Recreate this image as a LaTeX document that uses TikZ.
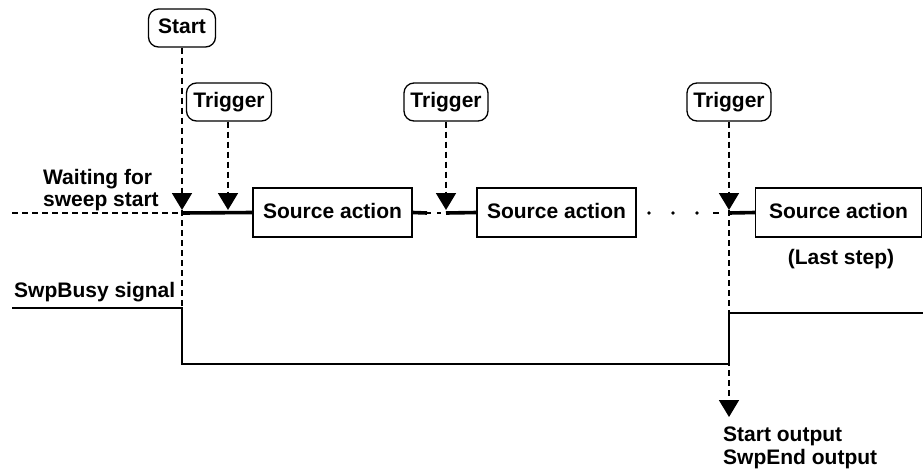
\documentclass[tikz,border=0pt]{standalone}
\usepackage{fontspec}
\setmainfont{Liberation Sans}
\usetikzlibrary{arrows.meta}
\begin{document}
\begin{tikzpicture}[x=1pt,y=-1pt,
  every node/.style={font=\bfseries\fontsize{21}{22}\selectfont, inner sep=0pt},
  tag/.style={draw, line width=1.3pt, rounded corners=10pt, minimum height=38pt, text height=15pt, text depth=4pt},
  srcbox/.style={draw, line width=1.4pt, minimum height=49pt, text height=15pt, text depth=4pt},
  dsh/.style={line width=1.8pt, dash pattern=on 6pt off 4pt},
  tri/.style={-{Triangle[width=20pt,length=17pt]}},
  thickline/.style={line width=3.6pt},
  sig/.style={line width=2.5pt}
]
\useasboundingbox (0,0) rectangle (923,469);

% tag nodes
\node[tag, minimum width=67pt] (start) at (182,28) {Start};
\node[tag, minimum width=85pt] (trig1) at (229,102) {Trigger};
\node[tag, minimum width=84pt] (trig2) at (446,102) {Trigger};
\node[tag, minimum width=84pt] (trig3) at (729,102) {Trigger};

% source boxes
\node[srcbox, minimum width=159pt] (src1) at (332.5,212.5) {Source action};
\node[srcbox, minimum width=159pt] (src2) at (556.5,212.5) {Source action};
\node[srcbox, minimum width=166pt] (src3) at (838.5,212.5) {Source action};

% labels
\node[anchor=base west] (wait1) at (43,184) {Waiting for};
\node[anchor=base west] (wait2) at (43,206) {sweep start};
\node[anchor=base west] (busy) at (14,297) {SwpBusy signal};
\node[anchor=base] (last) at (841,264) {(Last step)};
\node[anchor=base west] (out1) at (723,441) {Start output};
\node[anchor=base west] (out2) at (723,464) {SwpEnd output};

% coordinates on baseline
\coordinate (w0) at (12,213);
\coordinate (a0) at (182,213);
\coordinate (a0t) at (182,210);
\coordinate (a1t) at (228,210);
\coordinate (g1) at (427,213);
\coordinate (a2) at (446,213);
\coordinate (a2t) at (446,210);
\coordinate (d1) at (649,213);
\coordinate (d2) at (673,213);
\coordinate (d3) at (697,213);
\coordinate (e1) at (713,213);
\coordinate (e2) at (719,213);
\coordinate (a3) at (729,213);
\coordinate (a3t) at (729,210);

% signal coordinates
\coordinate (s0) at (12,308);
\coordinate (s1) at (182,308);
\coordinate (s2) at (182,364);
\coordinate (s3) at (729,364);
\coordinate (s4) at (729,313);
\coordinate (s5) at (923,313);
\coordinate (outt) at (729,417);

% baseline
\draw[dsh] (w0) -- (a0);
\draw[thickline] (a0) -- (src1.west);
\draw[thickline] (src1.east) -- (g1);
\draw[line width=1.8pt, dash pattern=on 4pt off 6pt] (g1) -- (a2);
\draw[thickline] (a2) -- (src2.west);
\foreach \p in {d1,d2,d3} \fill (\p) circle (1.9pt);
\draw[line width=1.8pt] (e1) -- (e2);
\draw[thickline] (a3) -- (src3.west);

% trigger / start arrows
\draw[dsh, tri] (start.south) -- (a0t);
\draw[dsh] (a0t) -- (s1);
\draw[dsh, tri] (trig1.south -| a1t) -- (a1t);
\draw[dsh, tri] (trig2.south) -- (a2t);
\draw[dsh, tri] (trig3.south) -- (a3t);
\draw[dsh, tri] (a3t) -- (outt);

% SwpBusy signal
\draw[sig] (s0) -- (s1) -- (s2) -- (s3) -- (s4) -- (s5);
\end{tikzpicture}
\end{document}
